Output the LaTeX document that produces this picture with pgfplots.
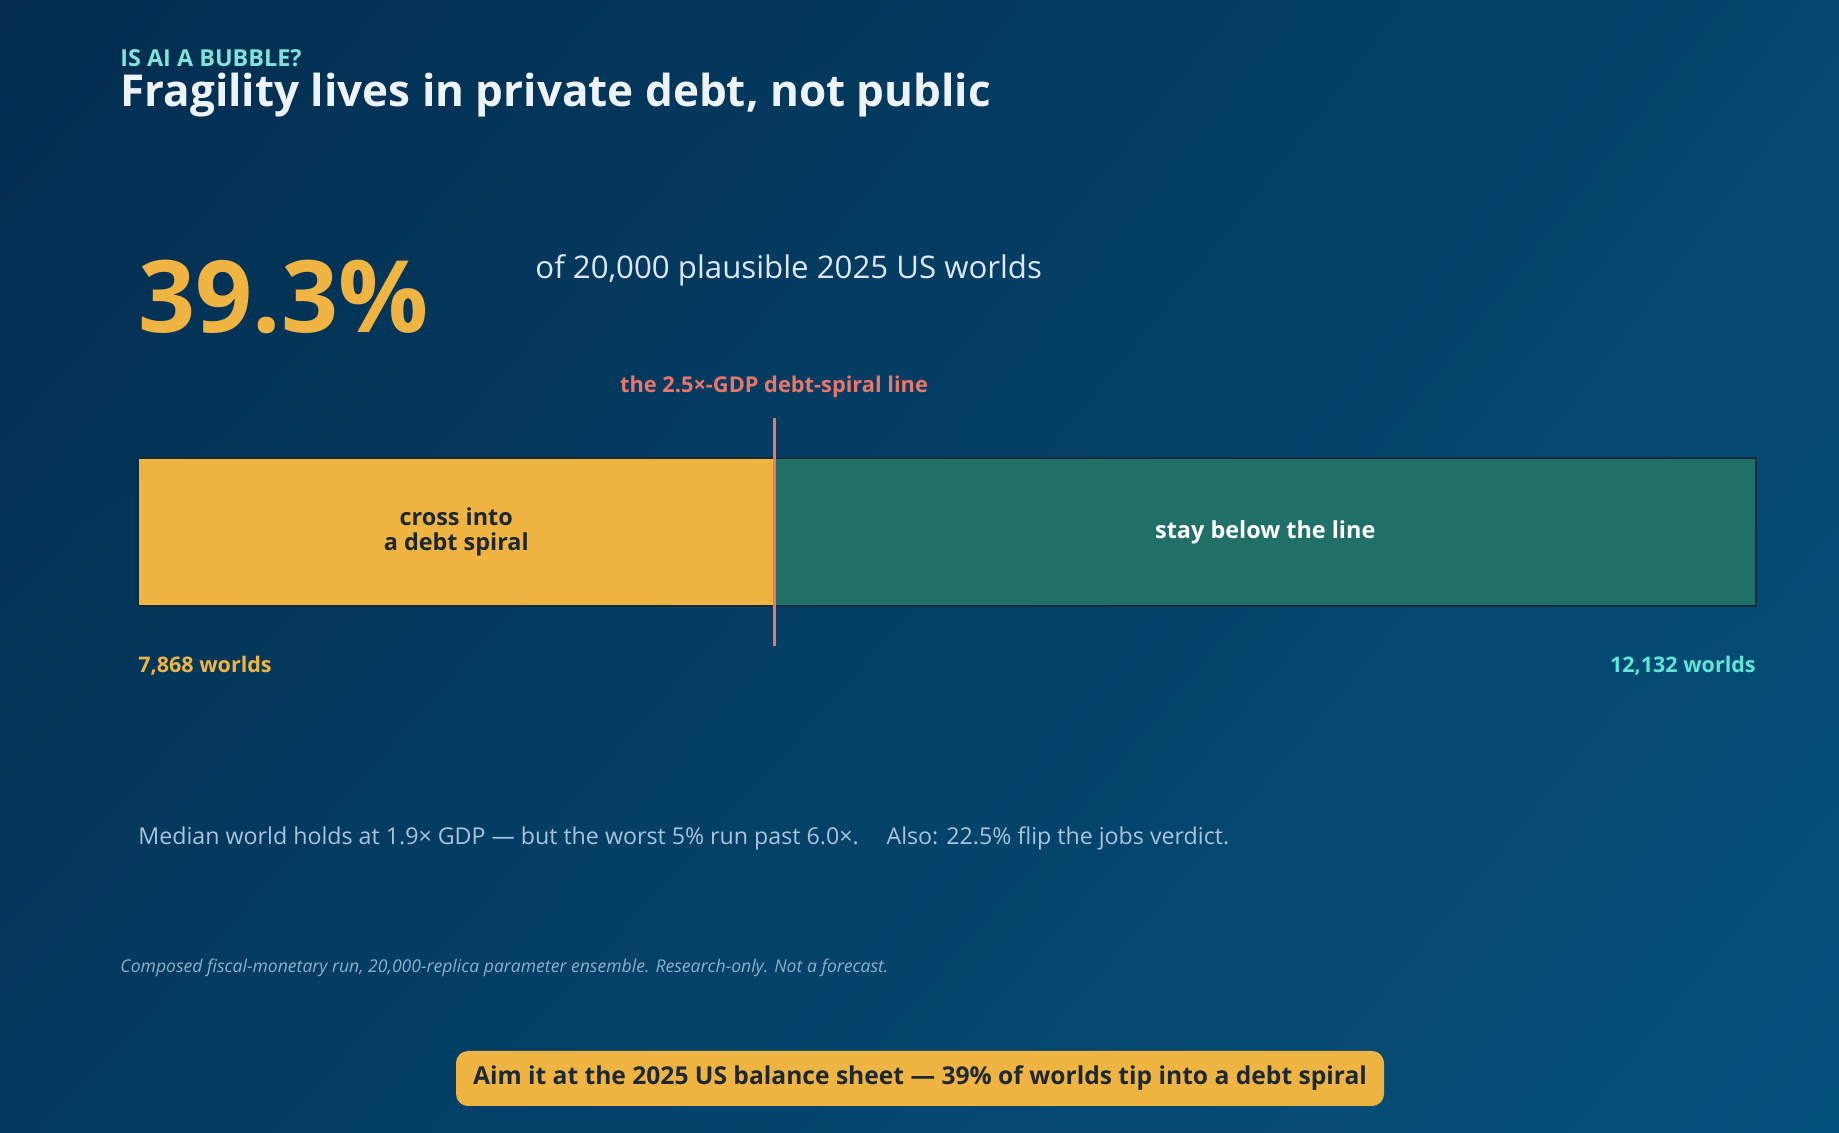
\documentclass[border=0pt]{standalone}
\usepackage{pgfplots}
\pgfplotsset{compat=1.18}
\usetikzlibrary{shadings}
\usepackage{fontspec}
\setmainfont{Open Sans}
\definecolor{bgUL}{RGB}{3,44,78}
\definecolor{bgUR}{RGB}{4,70,110}
\definecolor{bgLL}{RGB}{4,58,96}
\definecolor{bgLR}{RGB}{5,82,124}
\definecolor{gold}{RGB}{240,180,66}
\definecolor{teal}{RGB}{33,112,104}
\definecolor{salmon}{RGB}{232,118,106}
\definecolor{kicker}{RGB}{127,227,218}
\definecolor{cyanlab}{RGB}{94,230,214}
\definecolor{titlec}{RGB}{238,243,248}
\definecolor{subc}{RGB}{220,233,245}
\definecolor{medc}{RGB}{169,196,222}
\definecolor{footc}{RGB}{141,176,206}
\definecolor{darkt}{RGB}{28,40,52}
\definecolor{edge}{RGB}{18,42,58}
\begin{document}
\begin{tikzpicture}[x=0.5pt,y=0.5pt]
\shade[upper left=bgUL, upper right=bgUR, lower left=bgLL, lower right=bgLR] (0,0) rectangle (1839,1133);
% header
\node[anchor=base west, inner sep=0, text=kicker, font=\fontsize{11.7}{13}\selectfont\bfseries] at (120,1066) {IS AI A BUBBLE?};
\node[anchor=base west, inner sep=0, text=titlec, font=\fontsize{22}{26}\selectfont\bfseries] at (120,1026) {Fragility lives in private debt, not public};
% big number
\node[anchor=base west, inner sep=0, text=gold, font=\fontsize{50}{60}\selectfont\bfseries] at (138,800) {39.3\%};
\node[anchor=base west, inner sep=0, text=subc, font=\fontsize{15.6}{19}\selectfont] at (535,854) {of 20,000 plausible 2025 US worlds};
\node[anchor=base, inner sep=0, text=salmon, font=\fontsize{10.9}{13}\selectfont\bfseries] at (774,740) {the 2.5×-GDP debt-spiral line};
% bar
\begin{axis}[at={(69pt,263.5pt)}, anchor=south west, scale only axis,
  width=809pt, height=74pt, xmin=0, xmax=20000, ymin=0.5, ymax=1.5,
  hide axis, xbar stacked, bar width=74pt, clip=false]
\addplot[fill=gold, draw=edge, line width=0.8pt] coordinates {(7868,1)};
\addplot[fill=teal, draw=edge, line width=0.8pt] coordinates {(12132,1)};
\coordinate (lineTop) at (axis cs:7868,1.77);
\coordinate (lineBot) at (axis cs:7868,0.23);
\coordinate (labA) at (axis cs:3934,1);
\coordinate (labB) at (axis cs:13934,1);
\end{axis}
\draw[salmon, line width=1.5pt] (lineBot) -- (lineTop);
\node[text=darkt, font=\fontsize{11.7}{12.8}\selectfont\bfseries, align=center] at (labA) {cross into\\a debt spiral};
\node[text=white, font=\fontsize{11.7}{12.8}\selectfont\bfseries] at (labB) {stay below the line};
\node[anchor=base west, inner sep=0, text=gold, font=\fontsize{10.75}{12}\selectfont\bfseries] at (138,460) {7,868 worlds};
\node[anchor=base east, inner sep=0, text=cyanlab, font=\fontsize{10.75}{12}\selectfont\bfseries] at (1756,460) {12,132 worlds};
% notes
\node[anchor=base west, inner sep=0, text=medc, font=\fontsize{11.6}{14}\selectfont] at (138,288) {Median world holds at 1.9× GDP — but the worst 5\% run past 6.0×.\hspace{1.2em}Also: 22.5\% flip the jobs verdict.};
\node[anchor=base west, inner sep=0, text=footc, font=\fontsize{8.8}{10}\selectfont\itshape] at (120,160) {Composed fiscal-monetary run, 20,000-replica parameter ensemble. Research-only. Not a forecast.};
% banner
\fill[gold, rounded corners=6pt] (456,27) rectangle (1384,82);
\node[text=darkt, font=\fontsize{12.3}{14}\selectfont\bfseries] at (920,55) {Aim it at the 2025 US balance sheet — 39\% of worlds tip into a debt spiral};
\end{tikzpicture}
\end{document}
